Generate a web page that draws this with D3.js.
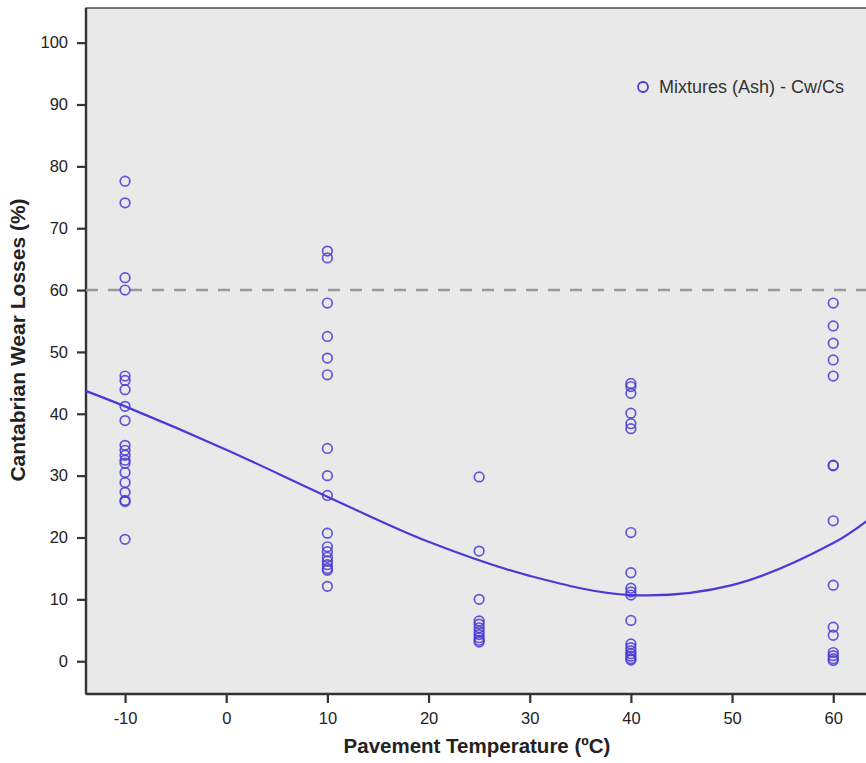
<!DOCTYPE html>
<meta charset="utf-8">
<style>
body{margin:0;background:#fff;}
text{font-family:"Liberation Sans",Arial,sans-serif;}
.axis-title{font-weight:bold;fill:#222;}
</style>
<body>
<script src="https://cdn.jsdelivr.net/npm/d3@7"></script>
<script>

// temperature groups and measured losses
var temps=[-10,10,25,40,60];
var lossM10=[77.6,74.1,62.0,60.0,46.1,45.4,43.9,41.2,38.9,34.9,34.1,33.3,32.5,32.0,30.5,28.9,27.3,26.0,25.8,19.7];
var loss10=[66.3,65.2,57.9,52.5,49.0,46.3,34.4,30.0,26.8,20.7,18.5,17.7,16.8,16.2,15.6,15.0,14.7,12.1];
var loss25=[29.8,17.8,10.0,6.5,6.0,5.4,4.8,4.3,3.8,3.4,3.1];
var loss40=[44.9,44.4,43.3,40.1,38.4,37.6,20.8,14.3,11.8,11.2,10.7,6.6,2.8,2.2,1.7,1.2,0.8,0.4,0.2];
var loss60=[57.9,54.2,51.4,48.7,46.1,31.7,31.6,22.7,12.3,5.5,4.2,1.4,0.9,0.4,0.1];
// fitted curve
var fitT=[-13.9,-10,0,10,20,30,40,50,60,63.5];
var fitV=[43.7,41.2,34.2,26.6,19.3,13.8,10.7,12.3,19.1,22.9];
var refLine=60;
var xTicks=[-10,0,10,20,30,40,50,60];
var yTicks=[0,10,20,30,40,50,60,70,80,90,100];
var seriesName="Mixtures (Ash) - Cw/Cs";

var W=866,H=763;
var pLeft=86,pTop=8,pBottom=694;
var col="#4a3ad6";

var svg=d3.select("body").append("svg").attr("width",W).attr("height",H);

var x=d3.scaleLinear().domain([-13.86,66.6]).range([pLeft,pLeft+814]);
var y=d3.scaleLinear().domain([-5.3,105.6]).range([pBottom,pTop]);

svg.append("rect").attr("x",pLeft).attr("y",pTop)
	.attr("width",x(66.6)-pLeft).attr("height",pBottom-pTop)
	.attr("fill","#e9e9e9").attr("stroke","#444").attr("stroke-width",1.4);

var gx=svg.append("g").attr("transform","translate(0,"+pBottom+")")
	.call(d3.axisBottom(x).tickValues(xTicks).tickSize(9).tickPadding(9).tickFormat(d=>String(d)));
var gy=svg.append("g").attr("transform","translate("+pLeft+",0)")
	.call(d3.axisLeft(y).tickValues(yTicks).tickSize(9).tickPadding(9).tickFormat(d=>String(d)));
[gx,gy].forEach(function(g){
	g.attr("font-size",null).attr("font-family",null);
	g.select(".domain").attr("stroke","#333").attr("stroke-width",2.4);
	g.selectAll(".tick line").attr("stroke","#333").attr("stroke-width",2.2);
	g.selectAll(".tick text").style("font-size","16.5px").attr("fill","#222");
});
gy.select(".domain").attr("d","M0,"+pTop+"V"+pBottom);
gx.select(".domain").attr("d","M"+pLeft+",0H"+W);

var plot=svg.append("g");

plot.append("line")
	.attr("x1",pLeft).attr("x2",W)
	.attr("y1",y(refLine)).attr("y2",y(refLine))
	.attr("stroke","#999").attr("stroke-width",2.5).attr("stroke-dasharray","12,10");

var pts=[];
[lossM10,loss10,loss25,loss40,loss60].forEach(function(arr,i){
	arr.forEach(function(v){pts.push({t:temps[i],v:v});});
});

plot.selectAll("circle.pt").data(pts).enter().append("circle")
	.attr("class","pt")
	.attr("cx",d=>x(d.t)).attr("cy",d=>y(d.v)).attr("r",4.8)
	.attr("fill","none").attr("stroke",col).attr("stroke-width",1.7).attr("stroke-opacity",0.85);

var fit=fitT.map((t,i)=>[t,fitV[i]]);
plot.append("path").datum(fit)
	.attr("d",d3.line().x(d=>x(d[0])).y(d=>y(d[1])).curve(d3.curveCatmullRom))
	.attr("fill","none").attr("stroke",col).attr("stroke-width",2.2);

// legend
svg.append("circle").attr("cx",643).attr("cy",87).attr("r",5)
	.attr("fill","none").attr("stroke",col).attr("stroke-width",1.8);
svg.append("text").attr("x",659).attr("y",93).style("font-size","18px").attr("fill","#333")
	.text(seriesName);

svg.append("text").attr("class","axis-title").style("font-size","21px")
	.attr("transform","translate(25,340) rotate(-90)").attr("text-anchor","middle")
	.text("Cantabrian Wear Losses (%)");
svg.append("text").attr("class","axis-title").style("font-size","20.5px")
	.attr("x",477).attr("y",753).attr("text-anchor","middle")
	.text("Pavement Temperature (ºC)");
</script>
</body>
